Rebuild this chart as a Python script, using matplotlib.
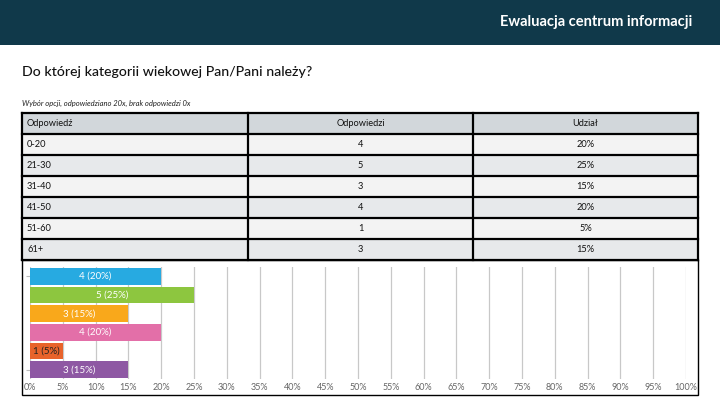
import matplotlib
matplotlib.use("Agg")
import matplotlib.pyplot as plt
from matplotlib.patches import Rectangle

categories = ["0-20", "21-30", "31-40", "41-50", "51-60", "61+"]
counts = [4, 5, 3, 4, 1, 3]
shares = [20, 25, 15, 20, 5, 15]
bar_colors = ["#27aae1", "#8dc63f", "#f9a81b", "#e36fa8", "#e8632b", "#8e58a3"]
label_colors = ["white", "white", "white", "white", "#222222", "white"]
col_headers = ["Odpowiedź", "Odpowiedzi", "Udział"]
xticks = list(range(0, 101, 5))

plt.rcParams['font.family'] = ['Lato', 'DejaVu Sans']

W, H = 720, 405
fig = plt.figure(figsize=(W / 100, H / 100), dpi=100)
bg = fig.add_axes([0, 0, 1, 1])
bg.set_xlim(0, W)
bg.set_ylim(H, 0)
bg.axis("off")

# header band
bg.add_patch(Rectangle((0, 0), W, 45, facecolor="#10394a", edgecolor="none"))
bg.text(692, 22, "Ewaluacja centrum informacji", color="white", fontsize=10.5,
        fontweight="bold", ha="right", va="center")
bg.text(22, 72, "Do której kategorii wiekowej Pan/Pani należy?", color="#111111",
        fontsize=10.2, fontweight="medium", ha="left", va="center")
bg.text(22, 103, "Wybór opcji, odpowiedziano 20x, brak odpowiedzi 0x", color="#222222",
        fontsize=5.5, style="italic", ha="left", va="center")

# table
x0, x1, x2, x3 = 22, 248, 473, 698
top = 113
hh = 21
rh = 21
rows_y = [top + hh + i * rh for i in range(len(categories))]
bg.add_patch(Rectangle((x0, top), x3 - x0, hh, facecolor="#d2d7db", edgecolor="none"))
for i, y in enumerate(rows_y):
    fc = "#f3f3f3" if i % 2 == 0 else "#e7e9eb"
    bg.add_patch(Rectangle((x0, y), x3 - x0, rh, facecolor=fc, edgecolor="none"))
bottom = rows_y[-1] + rh
for y in [top] + rows_y + [bottom]:
    bg.plot([x0, x3], [y, y], color="black", lw=1.6, solid_capstyle="projecting")
for x in [x0, x1, x2, x3]:
    bg.plot([x, x], [top, bottom], color="black", lw=1.6, solid_capstyle="projecting")

fs = 6.7
bg.text(x0 + 5, top + hh / 2, col_headers[0], fontsize=fs, ha="left", va="center", color="#111")
bg.text((x1 + x2) / 2, top + hh / 2, col_headers[1], fontsize=fs, ha="center", va="center", color="#111")
bg.text((x2 + x3) / 2, top + hh / 2, col_headers[2], fontsize=fs, ha="center", va="center", color="#111")
for i, y in enumerate(rows_y):
    cy = y + rh / 2
    bg.text(x0 + 5, cy, categories[i], fontsize=fs, ha="left", va="center", color="#111")
    bg.text((x1 + x2) / 2, cy, str(counts[i]), fontsize=fs, ha="center", va="center", color="#111")
    bg.text((x2 + x3) / 2, cy, f"{shares[i]}%", fontsize=fs, ha="center", va="center", color="#111")

# chart box
bg.add_patch(Rectangle((x0, bottom), x3 - x0, 395 - bottom, facecolor="white",
                       edgecolor="black", lw=1.0))

# bar chart
ax_l, ax_r = 30, 686
ax_t, ax_b = 267, 379
ax = fig.add_axes([ax_l / W, 1 - ax_b / H, (ax_r - ax_l) / W, (ax_b - ax_t) / H])
ax.set_facecolor("none")
ypos = list(range(len(categories)))
ax.barh(ypos, shares, height=0.9, color=bar_colors, zorder=3)
ax.set_xlim(0, 100)
ax.set_ylim(len(categories) - 0.5, -0.5)
ax.set_xticks(xticks)
ax.set_xticklabels([f"{t}%" for t in xticks], fontsize=6.5, color="#666666")
ax.set_yticks([ypos[0], ypos[-1]])
ax.set_yticklabels([])
ax.tick_params(axis="y", length=3, color="#bbbbbb", width=0.8)
ax.tick_params(axis="x", length=0, pad=3)
for s in ax.spines.values():
    s.set_visible(False)
ax.grid(axis="x", color="#c8c8c8", lw=0.9, zorder=0)
for i, v in enumerate(shares):
    ax.text(v / 2, i, f"{counts[i]} ({v}%)", color=label_colors[i], fontsize=7,
            ha="center", va="center", zorder=4)

fig.savefig("out.png", dpi=100)
